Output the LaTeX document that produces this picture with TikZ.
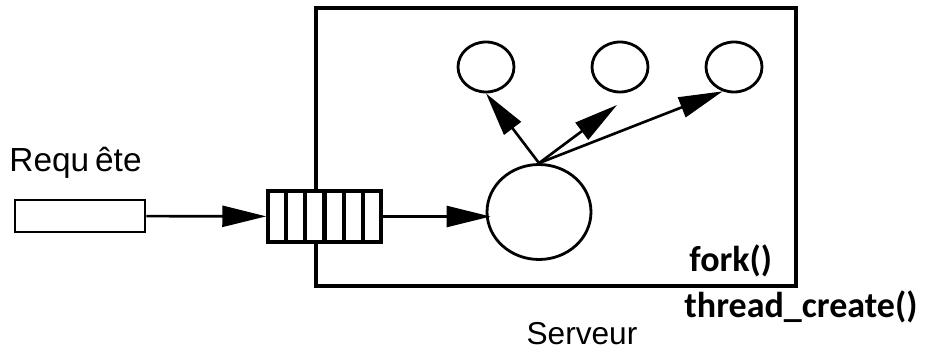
\documentclass[tikz,border=0pt]{standalone}
\usepackage{fontspec}
\setmainfont{Liberation Sans}
\newfontfamily\codefont{Carlito}
\usetikzlibrary{arrows.meta,positioning,calc,shapes.geometric}

\begin{document}
\begin{tikzpicture}[x=0.02cm,y=-0.02cm,line width=1.6pt,
  box/.style={draw,fill=white,inner sep=0pt},
  proc/.style={ellipse,draw,inner sep=0pt},
  fleche/.style={line width=1.5pt,-{Triangle[length=0.88cm,width=0.42cm]}},
  lbl/.style={font=\fontsize{18}{20}\selectfont,inner sep=0pt},
  code/.style={font=\codefont\bfseries\fontsize{20.5}{22}\selectfont,anchor=west,inner sep=0pt}]
\useasboundingbox (0,0) rectangle (926,351);
% serveur
\draw[line width=1.8pt] (316,8) rectangle (796,286);
\node[lbl] (srvlbl) at (582,334){Serveur};
\node[code] (fork) at (688,261){fork()};
\node[code] (thr) at (683,307){thread\_create()};
% requete et file d'attente
\node[box,minimum width=2.6cm,minimum height=0.64cm] (req) at (80,216){};
\node[lbl,anchor=west,font=\fontsize{19}{21}\selectfont] (reqlbl) at (8,163){Requ\kern0.12cm ête};
\node[box,line width=2pt,minimum width=2.26cm,minimum height=1.02cm] (file) at (324.5,216.5){};
\foreach \i in {1,...,5}\draw[line width=2.4pt] ($(file.north west)!\i/6!(file.north east)$) -- ($(file.south west)!\i/6!(file.south east)$);
% processus
\node[proc,minimum width=2.08cm,minimum height=1.9cm] (pere) at (539,212){};
\node[proc,minimum width=1.12cm,minimum height=1cm] (t1) at (486,67){};
\node[proc,minimum width=1.12cm,minimum height=1cm] (t2) at (620,67){};
\node[proc,minimum width=1.12cm,minimum height=1cm] (t3) at (734,67){};
\coordinate (c2) at (617,105);
\draw[fleche] (req) -- (file);
\draw[fleche] (file) -- ([xshift=0.1cm]file -| pere.west);
\draw[fleche] (pere.north) -- (t1.south);
\draw[fleche] (pere.north) -- (c2);
\draw[fleche] (pere.north) -- (t3.245);
\end{tikzpicture}
\end{document}
